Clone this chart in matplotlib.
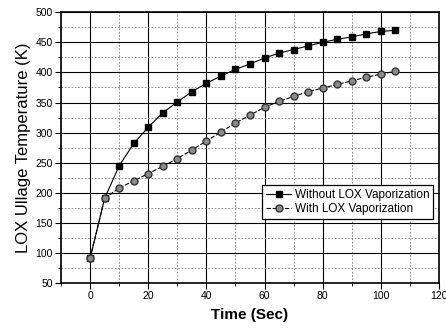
import matplotlib.pyplot as plt
from matplotlib.ticker import MultipleLocator

plt.rcParams['font.family'] = ['Liberation Sans', 'DejaVu Sans']

# Time points (sec)
time = [0, 5, 10, 15, 20, 25, 30, 35, 40, 45, 50, 55, 60, 65, 70, 75, 80, 85, 90, 95, 100, 105]

# LOX ullage temperature (K)
without_vap = [92, 191, 245, 282, 309, 333, 351, 368, 382, 394, 405, 414, 424, 432,
               438, 444, 450, 455, 459, 464, 468, 470]
with_vap = [92, 191, 208, 220, 232, 244, 257, 271, 286, 301, 316, 329, 342, 352,
            360, 368, 374, 380, 386, 392, 397, 402]

fig = plt.figure(figsize=(4.46, 3.30), dpi=100)
ax = fig.add_axes([0.137, 0.142, 0.847, 0.821])

ax.plot(time, without_vap, color='black', linewidth=0.8, marker='s', markersize=5,
        markerfacecolor='black', markeredgecolor='black', label='Without LOX Vaporization',
        zorder=3)
ax.plot(time, with_vap, color='black', linewidth=0.8, linestyle=(0, (4, 1.5)), marker='o',
        markersize=5, markerfacecolor='#8a8a8a', markeredgecolor='#333333',
        label='With LOX Vaporization', zorder=3)

ax.set_xlim(-10, 120)
ax.set_ylim(50, 500)
ax.xaxis.set_major_locator(MultipleLocator(20))
ax.xaxis.set_minor_locator(MultipleLocator(10))
ax.yaxis.set_major_locator(MultipleLocator(50))
ax.yaxis.set_minor_locator(MultipleLocator(25))

ax.grid(which='major', color='black', linewidth=0.8, linestyle='-')
ax.grid(which='minor', color='#777777', linewidth=0.6, linestyle=(0, (2, 2)))
ax.set_axisbelow(True)

for s in ax.spines.values():
    s.set_linewidth(1.2)

ax.tick_params(which='major', direction='out', length=4, width=0.8, labelsize=7.5, pad=2)
ax.tick_params(which='minor', direction='out', length=2, width=0.6)

ax.set_xlabel('Time (Sec)', fontsize=11, fontweight='bold', labelpad=5)
ax.set_ylabel('LOX Ullage Temperature (K)', fontsize=12, labelpad=3)

leg = ax.legend(loc='center right', bbox_to_anchor=(0.985, 0.30), fontsize=8.5,
                frameon=True, fancybox=False, edgecolor='black', framealpha=1,
                handlelength=2.2, handletextpad=0.3, borderpad=0.3, labelspacing=0.2,
                borderaxespad=0)
leg.get_frame().set_linewidth(0.9)

fig.savefig('out.png', dpi=100)
